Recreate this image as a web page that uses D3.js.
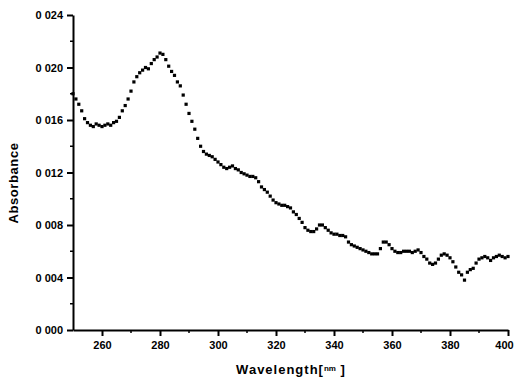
<!DOCTYPE html>
<html>
<head>
<meta charset="utf-8">
<script src="https://cdn.jsdelivr.net/npm/d3@7"></script>
<style>
  html, body { margin: 0; padding: 0; background: #fff; }
  svg { display: block; }
  text { font-family: "Liberation Sans", Arial, sans-serif; fill: #000; }
</style>
</head>
<body>
<svg id="chart" width="516" height="381"></svg>
<script>
// ---- data ----
const wavelengthStart = 250;
const absorbance = [
  0.0180, 0.0176, 0.0172, 0.0167, 0.0161, 0.0158, 0.0156, 0.0155, 0.0157, 0.0156, // 250-259
  0.0155, 0.0156, 0.0157, 0.0156, 0.0158, 0.0159, 0.0162, 0.0167, 0.0171, 0.0176, // 260-269
  0.0182, 0.0189, 0.0193, 0.0196, 0.0198, 0.0200, 0.0199, 0.0203, 0.0206, 0.0208, // 270-279
  0.0211, 0.0210, 0.0206, 0.0201, 0.0197, 0.0194, 0.0189, 0.0186, 0.0179, 0.0172, // 280-289
  0.0165, 0.0159, 0.0153, 0.0146, 0.0140, 0.0136, 0.0134, 0.0133, 0.0132, 0.0130, // 290-299
  0.0128, 0.0126, 0.0124, 0.0123, 0.0124, 0.0125, 0.0123, 0.0122, 0.0120, 0.0119, // 300-309
  0.0118, 0.0117, 0.0117, 0.0116, 0.0113, 0.0109, 0.0107, 0.0105, 0.0102, 0.0099, // 310-319
  0.0097, 0.0096, 0.0095, 0.0095, 0.0094, 0.0093, 0.0090, 0.0088, 0.0085, 0.0082, // 320-329
  0.0078, 0.0076, 0.0075, 0.0075, 0.0077, 0.0080, 0.0080, 0.0078, 0.0076, 0.0074, // 330-339
  0.0073, 0.0073, 0.0072, 0.0072, 0.0071, 0.0067, 0.0065, 0.0064, 0.0063, 0.0062, // 340-349
  0.0061, 0.0060, 0.0059, 0.0058, 0.0058, 0.0058, 0.0062, 0.0067, 0.0067, 0.0065, // 350-359
  0.0062, 0.0060, 0.0059, 0.0059, 0.0060, 0.0060, 0.0060, 0.0059, 0.0060, 0.0061, // 360-369
  0.0059, 0.0056, 0.0054, 0.0051, 0.0050, 0.0051, 0.0054, 0.0057, 0.0058, 0.0057, // 370-379
  0.0055, 0.0052, 0.0048, 0.0044, 0.0042, 0.0038, 0.0044, 0.0046, 0.0047, 0.0051, // 380-389
  0.0054, 0.0055, 0.0056, 0.0055, 0.0053, 0.0055, 0.0056, 0.0057, 0.0056, 0.0055, // 390-399
  0.0056                                                                         // 400
];
const wavelengths = absorbance.map((_, i) => wavelengthStart + i);

const xTicks = [260, 280, 300, 320, 340, 360, 380, 400];
const xMinorTicks = [270, 290, 310, 330, 350, 370, 390];
const yTicks = [0, 0.004, 0.008, 0.012, 0.016, 0.020, 0.024];
const yTickLabels = ["0 000", "0 004", "0 008", "0 012", "0 016", "0 020", "0 024"];
const yMinorTicks = [0.002, 0.006, 0.010, 0.014, 0.018, 0.022];
const xTitle = "Wavelength[";
const xTitleUnit = "nm";
const yTitle = "Absorbance";

// ---- layout ----
const svg = d3.select("#chart");
const x = d3.scaleLinear().domain([250, 400]).range([73, 508]);
const y = d3.scaleLinear().domain([0, 0.024]).range([330, 15]);

// points
svg.append("g").selectAll("rect")
  .data(wavelengths.map((w, i) => [w, absorbance[i]]))
  .join("rect")
  .attr("x", d => x(d[0]) - 1.6)
  .attr("y", d => y(d[1]) - 1.6)
  .attr("width", 3.2)
  .attr("height", 3.2)
  .attr("fill", "#000");

// x axis
const xAxis = svg.append("g").attr("transform", "translate(0,330)");
xAxis.call(d3.axisBottom(x).tickValues(xTicks).tickSize(6).tickSizeOuter(0).tickPadding(5)
  .tickFormat(d3.format("d")));
xAxis.selectAll(".domain").attr("stroke", "#000").attr("stroke-width", 2);
xAxis.selectAll(".tick line").attr("stroke", "#000").attr("stroke-width", 2);
xAxis.selectAll(".tick text")
  .style("font-family", "'Liberation Sans', Arial, sans-serif")
  .style("font-size", "11px").style("font-weight", "bold");
// keep the last label inside the window
xAxis.selectAll(".tick text").filter(d => d === 400).attr("dx", -4);
xAxis.append("g").selectAll("line").data(xMinorTicks).join("line")
  .attr("x1", d => x(d)).attr("x2", d => x(d))
  .attr("y1", 0).attr("y2", 3)
  .attr("stroke", "#000").attr("stroke-width", 1.5);

// y axis
const yAxis = svg.append("g").attr("transform", "translate(73,0)");
yAxis.call(d3.axisLeft(y).tickValues(yTicks).tickSize(6).tickSizeOuter(0).tickPadding(4)
  .tickFormat((d, i) => yTickLabels[i]));
yAxis.selectAll(".domain").attr("stroke", "#000").attr("stroke-width", 2);
yAxis.selectAll(".tick line").attr("stroke", "#000").attr("stroke-width", 2);
yAxis.selectAll(".tick text")
  .style("font-family", "'Liberation Sans', Arial, sans-serif")
  .style("font-size", "11px").style("font-weight", "bold");
yAxis.append("g").selectAll("line").data(yMinorTicks).join("line")
  .attr("x1", 0).attr("x2", -3)
  .attr("y1", d => y(d)).attr("y2", d => y(d))
  .attr("stroke", "#000").attr("stroke-width", 1.5);

// axis titles
const xt = svg.append("text")
  .attr("x", 291).attr("y", 374)
  .attr("text-anchor", "middle")
  .style("font-size", "13px").style("font-weight", "bold")
  .style("letter-spacing", "1px");
xt.append("tspan").text(xTitle);
xt.append("tspan").text(xTitleUnit).style("font-size", "8px").attr("dy", -3).style("letter-spacing", "0px");
xt.append("tspan").text(" ]").attr("dy", 3);

svg.append("text")
  .attr("transform", "translate(18,183) rotate(-90)")
  .attr("text-anchor", "middle")
  .style("font-size", "13px").style("font-weight", "bold")
  .style("letter-spacing", "0.6px")
  .text(yTitle);
</script>
</body>
</html>
